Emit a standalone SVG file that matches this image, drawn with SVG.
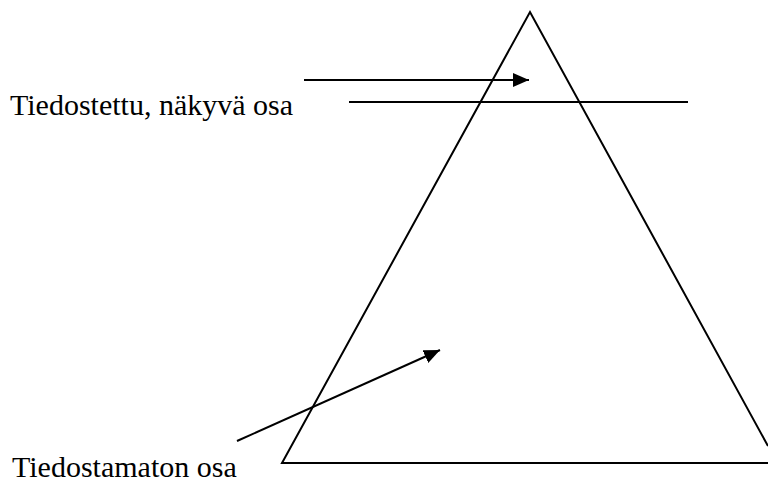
<svg xmlns="http://www.w3.org/2000/svg" width="768" height="483" viewBox="0 0 768 483">
<style>
.ln{stroke:#000;stroke-width:2;fill:none}
.lb{font-family:"Liberation Serif","Times New Roman",serif;font-size:30px;fill:#000}
</style>
<defs>
<marker id="ah" markerUnits="userSpaceOnUse" markerWidth="16" markerHeight="14" refX="16" refY="7" orient="auto">
<path d="M0,0 L16,7 L0,14 Z" fill="#000"/>
</marker>
</defs>
<rect width="768" height="483" fill="#fff"/>
<g id="triangle">
<path class="ln" d="M768,446 L530,12 L282,463 L768,463"/>
</g>
<g id="divider">
<line class="ln" x1="349" y1="102" x2="688" y2="102"/>
</g>
<g id="label-top">
<text class="lb" x="10" y="115">Tiedostettu, näkyvä osa</text>
</g>
<g id="label-bottom">
<text class="lb" x="12" y="477">Tiedostamaton osa</text>
</g>
<g id="connectors">
<line class="ln" x1="304" y1="80" x2="529" y2="80" marker-end="url(#ah)"/>
<line class="ln" x1="237" y1="441" x2="440" y2="350" marker-end="url(#ah)"/>
</g>
</svg>
